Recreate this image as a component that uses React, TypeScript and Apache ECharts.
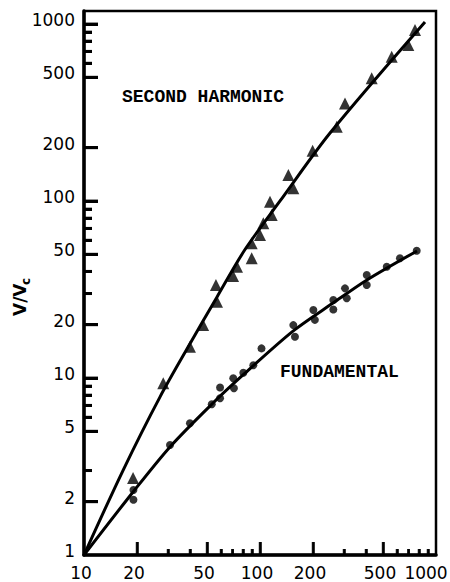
import React, { useEffect, useRef } from "react";
import * as echarts from "echarts";

// Fitted curves
const harmonicFitX = [10, 16.7, 27, 40, 57, 82, 130, 250, 866];
const harmonicFitY = [1, 3.02, 7.8, 15.6, 28.7, 53, 100, 242, 1026];
const fundamentalFitX = [10, 19, 30.8, 52.7, 80.1, 154, 260, 405, 780];
const fundamentalFitY = [1, 2.27, 4.08, 7.04, 10.4, 18.4, 26.5, 35.8, 52.2];

// Measured points: second harmonic (triangles)
const harmonicX = [19, 28.2, 40, 47.5, 57, 56.2, 70.3, 74, 89.7, 89.7, 100, 104.4, 116.5, 114, 145, 154.6, 199, 273, 304, 431, 560, 696, 760];
const harmonicY = [2.72, 9.33, 15, 19.9, 27, 33.5, 37.7, 42.5, 47.5, 57.7, 64.3, 74.8, 83.4, 99.1, 140, 118, 192, 263, 356, 493, 654, 761, 925];

// Measured points: fundamental (dots)
const fundamentalX = [19.1, 19.1, 30.8, 40, 53.2, 59.3, 59.3, 70.5, 71.1, 80.4, 91.6, 102, 154.6, 158, 201, 205, 261, 261, 304, 311, 404, 404, 525, 624, 777];
const fundamentalY = [2.33, 2.05, 4.18, 5.55, 7.11, 7.68, 8.84, 9.96, 8.75, 10.7, 11.8, 14.7, 19.9, 17.1, 24.2, 21.3, 27.6, 24.4, 32.1, 28.2, 38.2, 33.5, 42.5, 47.5, 52.4];

// Axis ticks and labels
const yLabelValues = [1, 2, 5, 10, 20, 50, 100, 200, 500, 1000];
const yMajorTicks = [2, 5, 10, 20, 50, 100, 200, 500, 1000];
const yMinorTicks = [3, 6, 7, 8, 9, 30, 40, 60, 70, 80, 90, 600, 700, 800, 900];
const xLabelValues = [10, 20, 50, 100, 200, 500, 1000];
const xMajorTicks = [20, 50, 100, 200, 500];
const xMinorTicks = [30, 40, 60, 70, 80, 90, 300, 400, 600, 700, 800, 900];

const X_MIN = 10;
const X_MAX = 1000;
const Y_MIN = 1;
const Y_MAX = 1184;

const labelFont = '17px "DejaVu Sans"';

// Hidden linear axes spanning the log decades, used only to draw the ticks
function tickAxis(position: string, min: number, max: number, values: number[], len: number, width: number) {
  return {
    type: "value",
    position,
    min: Math.log10(min),
    max: Math.log10(max),
    axisLine: { show: false },
    axisLabel: { show: false },
    splitLine: { show: false },
    axisTick: {
      show: true,
      inside: true,
      length: len,
      customValues: values.map((v) => Math.log10(v)),
      lineStyle: { color: "#000", width },
    },
  };
}

function tickSeries(name: string, data: number[][], size: number[], offset: number[]) {
  return {
    name,
    type: "scatter",
    symbol: "rect",
    symbolSize: size,
    symbolOffset: offset,
    clip: false,
    silent: true,
    itemStyle: { color: "#000" },
    data,
    z: 5,
  };
}

export default function App() {
  const ref = useRef<HTMLDivElement>(null);

  useEffect(() => {
    document.body.style.margin = "0";
    const chart = echarts.init(ref.current!, null, { renderer: "svg" });

    chart.setOption({
      animation: false,
      backgroundColor: "#fff",
      grid: {
        left: 84,
        right: 14,
        top: 11,
        bottom: 27,
        show: true,
        borderColor: "#000",
        borderWidth: 2.5,
      },
      xAxis: [
        {
          type: "log",
          logBase: 10,
          position: "bottom",
          min: X_MIN,
          max: X_MAX,
          axisLine: { show: true, onZero: false, lineStyle: { color: "#000", width: 3.5 } },
          axisTick: { show: false },
          axisLabel: { show: false },
          splitLine: { show: false },
        },
        tickAxis("bottom", X_MIN, X_MAX, xMajorTicks, 13, 2.5),
        tickAxis("bottom", X_MIN, X_MAX, xMinorTicks, 6, 2.5),
      ],
      yAxis: [
        {
          type: "log",
          logBase: 10,
          position: "left",
          min: Y_MIN,
          max: Y_MAX,
          axisLine: { show: true, onZero: false, lineStyle: { color: "#000", width: 3.5 } },
          axisTick: { show: false },
          axisLabel: { show: false },
          splitLine: { show: false },
        },
        tickAxis("left", Y_MIN, Y_MAX, yMajorTicks, 14, 3),
        tickAxis("left", Y_MIN, Y_MAX, yMinorTicks, 8, 3),
      ],
      series: [
        {
          name: "Second harmonic fit",
          type: "line",
          data: harmonicFitX.map((x, i) => [x, harmonicFitY[i]]),
          smooth: 0.3,
          showSymbol: false,
          lineStyle: { color: "#000", width: 3 },
          z: 3,
        },
        {
          name: "Fundamental fit",
          type: "line",
          data: fundamentalFitX.map((x, i) => [x, fundamentalFitY[i]]),
          smooth: 0.3,
          showSymbol: false,
          lineStyle: { color: "#000", width: 3 },
          z: 3,
        },
        {
          name: "Second harmonic",
          type: "scatter",
          symbol: "triangle",
          symbolSize: 12,
          itemStyle: { color: "#000" },
          data: harmonicX.map((x, i) => [x, harmonicY[i]]),
          z: 4,
        },
        {
          name: "Fundamental",
          type: "scatter",
          symbol: "circle",
          symbolSize: 8,
          itemStyle: { color: "#000" },
          data: fundamentalX.map((x, i) => [x, fundamentalY[i]]),
          z: 4,
        },
        tickSeries("yMajorTicks", yMajorTicks.map((v) => [X_MIN, v]), [14, 3], [7, 0]),
        tickSeries("yMinorTicks", yMinorTicks.map((v) => [X_MIN, v]), [8, 3], [4, 0]),
        tickSeries("xMajorTicks", xMajorTicks.map((v) => [v, Y_MIN]), [2.5, 13], [0, -6.5]),
        tickSeries("xMinorTicks", xMinorTicks.map((v) => [v, Y_MIN]), [2.5, 6], [0, -3]),
      ],
    });

    const px = (x: number, y: number) =>
      chart.convertToPixel({ xAxisIndex: 0, yAxisIndex: 0 }, [x, y]) as number[];

    const graphics: any[] = [];
    yLabelValues.forEach((v) => {
      const p = px(X_MIN, v);
      graphics.push({
        type: "text",
        x: p[0] - 9,
        y: p[1] - 4,
        style: {
          text: String(v),
          align: "right",
          verticalAlign: "middle",
          font: labelFont,
          fill: "#000",
        },
      });
    });
    xLabelValues.forEach((v) => {
      const p = px(v, Y_MIN);
      graphics.push({
        type: "text",
        x: Math.min(p[0] - 3, 426),
        y: p[1] + 18,
        style: {
          text: String(v),
          align: "center",
          verticalAlign: "middle",
          font: labelFont,
          fill: "#000",
        },
      });
    });
    graphics.push(
      {
        type: "text",
        x: 122,
        y: 97,
        style: {
          text: "SECOND HARMONIC",
          font: 'bold 18px "Liberation Mono"',
          fill: "#000",
          verticalAlign: "middle",
        },
      },
      {
        type: "text",
        x: 280,
        y: 372,
        style: {
          text: "FUNDAMENTAL",
          font: 'bold 18px "Liberation Mono"',
          fill: "#000",
          verticalAlign: "middle",
        },
      },
      {
        type: "text",
        x: 20,
        y: 316,
        rotation: Math.PI / 2,
        style: {
          text: "V/V",
          font: 'bold 17px "DejaVu Sans"',
          fill: "#000",
          align: "left",
          verticalAlign: "middle",
        },
      },
      {
        type: "text",
        x: 26,
        y: 285,
        rotation: Math.PI / 2,
        style: {
          text: "c",
          font: 'bold 12px "DejaVu Sans"',
          fill: "#000",
          align: "left",
          verticalAlign: "middle",
        },
      }
    );

    chart.setOption({ graphic: graphics });

    return () => chart.dispose();
  }, []);

  return <div ref={ref} style={{ width: 450, height: 582 }} />;
}
